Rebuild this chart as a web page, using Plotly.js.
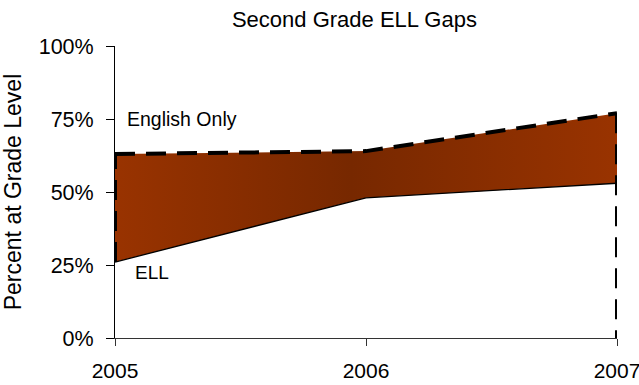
<!DOCTYPE html>
<html>
<head>
<meta charset="utf-8">
<script src="https://cdn.plot.ly/plotly-3.0.1.min.js"></script>
<style>
  html, body { margin: 0; padding: 0; background: #fff; }
  #chart { width: 639px; height: 385px; }
</style>
</head>
<body>
<div id="chart"></div>
<script>
// School years shown on the x axis
const years = [2005, 2006, 2007];
// Percent of second graders at grade level
const englishOnly = [63, 64, 77];
const ell = [26, 48, 53];
const yTicks = [0, 25, 50, 75, 100];

const FONT = 'Liberation Sans, Arial, sans-serif';
const first = 0;
const last = years.length - 1;
const DASH = '20px,11px';

const traces = [
  {
    // ELL line: lower edge of the gap band
    x: years, y: ell, type: 'scatter', mode: 'lines',
    line: { color: '#000', width: 1.3 },
    hoverinfo: 'skip', cliponaxis: false
  },
  {
    // English Only line, band filled down to the ELL line
    x: years, y: englishOnly, type: 'scatter', mode: 'lines',
    fill: 'tonexty',
    fillgradient: {
      type: 'horizontal',
      colorscale: [[0, '#993300'], [0.47, '#772800'], [1, '#993300']]
    },
    line: { color: '#000', width: 4, dash: DASH },
    hoverinfo: 'skip', cliponaxis: false
  },
  {
    // dashed left edge of the band
    x: [years[first], years[first]], y: [ell[first], englishOnly[first]],
    type: 'scatter', mode: 'lines',
    line: { color: '#000', width: 4, dash: DASH },
    hoverinfo: 'skip', cliponaxis: false
  },
  {
    // dashed right edge, running down to the axis
    x: [years[last], years[last]], y: [englishOnly[last], 0],
    type: 'scatter', mode: 'lines',
    line: { color: '#000', width: 4, dash: DASH },
    hoverinfo: 'skip', cliponaxis: false
  }
];

const layout = {
  width: 639, height: 385,
  margin: { l: 115, r: 22, t: 46, b: 47, pad: 0 },
  paper_bgcolor: '#fff', plot_bgcolor: '#fff',
  showlegend: false,
  font: { family: FONT, color: '#000' },
  title: {
    text: 'Second Grade ELL Gaps',
    font: { family: FONT, size: 22, color: '#000' },
    xref: 'paper', x: 0.477, xanchor: 'center',
    yref: 'container', y: 0.95, yanchor: 'middle'
  },
  xaxis: {
    range: [years[first], years[last]],
    tickvals: years, ticktext: years.map(String),
    showgrid: false, zeroline: false,
    showline: true, linecolor: '#333', linewidth: 1,
    ticks: 'outside', ticklen: 7, tickcolor: '#333',
    ticklabelstandoff: 7,
    ticklabeloverflow: 'allow',
    tickfont: { family: FONT, size: 21, color: '#000' },
    automargin: false, fixedrange: true
  },
  yaxis: {
    range: [0, 100],
    tickvals: yTicks, ticktext: yTicks.map(v => v + '%'),
    showgrid: false, zeroline: false,
    showline: true, linecolor: '#000', linewidth: 1,
    ticks: 'outside', ticklen: 8, tickcolor: '#000',
    ticklabelstandoff: 8,
    tickfont: { family: FONT, size: 21.5, color: '#000' },
    title: { text: 'Percent at Grade Level', font: { family: FONT, size: 23, color: '#000' }, standoff: 14 },
    automargin: false, fixedrange: true
  },
  annotations: [
    {
      text: 'English Only', x: years[first], y: 75, xref: 'x', yref: 'y',
      xanchor: 'left', yanchor: 'middle', xshift: 10, showarrow: false,
      font: { family: FONT, size: 19.5, color: '#000' }
    },
    {
      text: 'ELL', x: years[first], y: 22.5, xref: 'x', yref: 'y',
      xanchor: 'left', yanchor: 'middle', xshift: 18, showarrow: false,
      font: { family: FONT, size: 19, color: '#000' }
    }
  ]
};

Plotly.newPlot('chart', traces, layout, { staticPlot: true, displayModeBar: false });
</script>
</body>
</html>
